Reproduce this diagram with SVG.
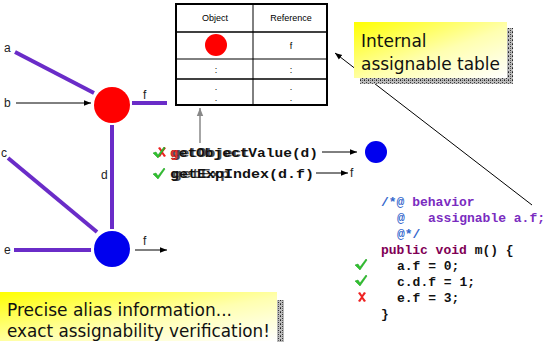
<svg xmlns="http://www.w3.org/2000/svg" width="547" height="349" viewBox="0 0 547 349">
  <style>
    .lbl { font-family: "Liberation Sans", Arial, sans-serif; font-size: 12px; fill: #222; }
    .purple { stroke: #6a2cc8; stroke-width: 4; fill: none; }
    .thin { stroke: #000; stroke-width: 1; fill: none; marker-end: url(#arr); }
    .hdr { font-family: "Liberation Sans", Arial, sans-serif; font-size: 9px; fill: #000; text-anchor: middle; }
    .cell { font-family: "Liberation Sans", Arial, sans-serif; font-size: 9px; fill: #000; text-anchor: middle; }
    .mono { font-family: "Liberation Mono", "Courier New", monospace; font-weight: bold; font-size: 13px; }
    .call { font-family: "Liberation Mono", "Courier New", monospace; font-weight: bold; font-size: 13px; fill: #111; }
    .note { font-family: "DejaVu Sans", Verdana, sans-serif; font-size: 17px; fill: #111; }
    .grid { stroke: #000; fill: none; }
    .ok { fill: #2fc22f; stroke: #1a9a1a; stroke-width: 0.5; }
    .bad { fill: #ee2222; }
  </style>
  <defs>
    <marker id="arr" viewBox="0 0 10 10" refX="10" refY="5" markerWidth="7" markerHeight="7" orient="auto" markerUnits="userSpaceOnUse">
      <path d="M0,1 L10,5 L0,9 z" fill="#000"/>
    </marker>
    <marker id="arrGrey" viewBox="0 0 10 10" refX="10" refY="5" markerWidth="8" markerHeight="8" orient="auto" markerUnits="userSpaceOnUse">
      <path d="M0,1 L10,5 L0,9 z" fill="#888"/>
    </marker>
    <linearGradient id="hilite" x1="0" y1="0" x2="1" y2="1">
      <stop offset="0" stop-color="#ffff00"/>
      <stop offset="0.55" stop-color="#ffffb0"/>
      <stop offset="1" stop-color="#ffffff"/>
    </linearGradient>
    <pattern id="grain" width="4" height="4" patternUnits="userSpaceOnUse">
      <rect width="4" height="4" fill="#bbb"/>
      <rect width="1" height="1" fill="#222"/>
      <rect x="2" y="2" width="1" height="1" fill="#333"/>
      <rect x="2" y="0" width="1" height="1" fill="#666"/>
      <rect x="0" y="3" width="1" height="1" fill="#555"/>
    </pattern>
    <!-- check mark, origin at its top-left -->
    <path id="tick" d="M0,6 L3,5 L5,8 L11,0 L12,1 L5,11 Z"/>
    <!-- cross mark -->
    <path id="cross" d="M0,1 L2,0 L4,3 L6,0 L8,1 L5,5 L8,9 L6,10 L4,7 L2,10 L0,9 L3,5 Z"/>
  </defs>

  <!-- object graph: field edges -->
  <g id="connectors">
    <line class="purple" x1="15" y1="52" x2="94" y2="93"/>
    <line class="thin" x1="16" y1="103" x2="91" y2="103"/>
    <line class="purple" x1="132" y1="103" x2="167" y2="103"/>
    <line class="purple" x1="112" y1="125" x2="112" y2="229"/>
    <line class="purple" x1="8" y1="158" x2="97" y2="232"/>
    <line class="purple" x1="14" y1="250" x2="91" y2="250"/>
    <line class="thin" x1="135" y1="250" x2="167" y2="250"/>
    <line stroke="#888" stroke-width="1.5" x1="200" y1="143" x2="200" y2="108" marker-end="url(#arrGrey)"/>
    <line class="thin" x1="322" y1="152" x2="357" y2="152"/>
    <line class="thin" x1="316" y1="173" x2="348" y2="173"/>
    <line class="thin" x1="532" y1="205" x2="335" y2="53"/>
  </g>

  <g id="edge-labels">
    <text class="lbl" x="4" y="52">a</text>
    <text class="lbl" x="4" y="107">b</text>
    <text class="lbl" x="1" y="157">c</text>
    <text class="lbl" x="4" y="254">e</text>
    <text class="lbl" x="143" y="99">f</text>
    <text class="lbl" x="101" y="179">d</text>
    <text class="lbl" x="143" y="245">f</text>
    <text class="lbl" x="350" y="177">f</text>
  </g>

  <g id="node-red">
    <circle cx="112" cy="105" r="18" fill="#ff0000"/>
  </g>
  <g id="node-blue">
    <circle cx="112" cy="249" r="18" fill="#0000ee"/>
  </g>
  <g id="node-result">
    <circle cx="376" cy="152" r="11" fill="#0000ee"/>
  </g>

  <!-- assignable table -->
  <g id="table">
    <rect x="176" y="4" width="151" height="101" fill="#fff" stroke="#000" stroke-width="2"/>
    <line class="grid" stroke-width="1.5" x1="176" y1="32" x2="327" y2="32"/>
    <line class="grid" stroke="#777" x1="176" y1="59" x2="327" y2="59"/>
    <line class="grid" stroke-width="1.5" x1="176" y1="79" x2="327" y2="79"/>
    <line class="grid" x1="253" y1="4" x2="253" y2="105"/>
    <text class="hdr" x="215" y="21">Object</text>
    <text class="hdr" x="291" y="21">Reference</text>
    <circle cx="216" cy="45" r="11" fill="#ff0000"/>
    <text class="cell" x="291" y="49">f</text>
    <text class="cell" x="216" y="73">:</text>
    <text class="cell" x="291" y="73">:</text>
    <text class="cell" x="216" y="90">.</text>
    <text class="cell" x="291" y="90">.</text>
    <text class="cell" x="216" y="101">.</text>
    <text class="cell" x="291" y="101">.</text>
  </g>

  <!-- lookup calls -->
  <g id="calls">
    <use href="#cross" class="bad" x="158" y="147"/>
    <use href="#tick" class="ok" x="153" y="147"/>
    <text class="call" x="170" y="157" textLength="148" lengthAdjust="spacingAndGlyphs">getObjectValue(d)</text>
    <text class="call" x="172" y="157" opacity="0.75" textLength="78" lengthAdjust="spacingAndGlyphs">getObject</text>
    <text class="call" x="170" y="157" style="fill:#e03030" textLength="8" lengthAdjust="spacingAndGlyphs">g</text>
    <use href="#tick" class="ok" x="153" y="168"/>
    <text class="call" x="170" y="178" textLength="144" lengthAdjust="spacingAndGlyphs">getExpIndex(d.f)</text>
    <text class="call" x="172" y="178" opacity="0.75" textLength="58" lengthAdjust="spacingAndGlyphs">getExp</text>
  </g>

  <!-- callout: internal table -->
  <g id="note-table">
    <rect x="360" y="28" width="153" height="56" fill="url(#grain)"/>
    <rect x="354" y="22" width="153" height="56" fill="url(#hilite)"/>
    <text class="note" x="361" y="47">Internal</text>
    <text class="note" x="361" y="70" textLength="139" lengthAdjust="spacingAndGlyphs">assignable table</text>
  </g>

  <!-- method with assignable clause -->
  <g id="code">
    <text class="mono" x="381" y="206"><tspan fill="#3366cc">/*@ </tspan><tspan fill="#7a2cc0">behavior</tspan></text>
    <text class="mono" x="397" y="222"><tspan fill="#3366cc">@</tspan><tspan x="428" fill="#7a2cc0">assignable a.f;</tspan></text>
    <text class="mono" x="397" y="238" fill="#3366cc">@*/</text>
    <text class="mono" x="381" y="254" fill="#7f0055">public void <tspan fill="#111">m() {</tspan></text>
    <text class="mono" x="397" y="270" fill="#111">a.f = 0;</text>
    <text class="mono" x="397" y="286" fill="#111">c.d.f = 1;</text>
    <text class="mono" x="397" y="302" fill="#111">e.f = 3;</text>
    <text class="mono" x="381" y="318" fill="#111">}</text>
    <use href="#tick" class="ok" x="355" y="259"/>
    <use href="#tick" class="ok" x="355" y="275"/>
    <use href="#cross" class="bad" x="358" y="292"/>
  </g>

  <!-- callout: conclusion -->
  <g id="note-summary">
    <rect x="277" y="300" width="7" height="42" fill="url(#grain)"/>
    <rect x="0" y="292" width="277" height="49" fill="url(#hilite)"/>
    <text class="note" x="7" y="316" textLength="225" lengthAdjust="spacingAndGlyphs">Precise alias information...</text>
    <text class="note" x="7" y="337" textLength="263" lengthAdjust="spacingAndGlyphs">exact assignability verification!</text>
  </g>
</svg>
